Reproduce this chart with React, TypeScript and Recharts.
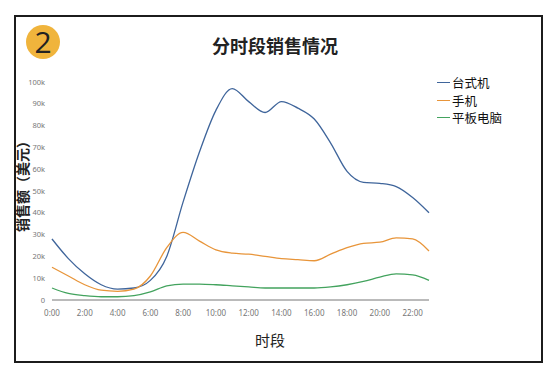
import { LineChart, Line, XAxis, YAxis, Legend } from "recharts";

const hours = [0, 1, 2, 3, 4, 5, 6, 7, 8, 9, 10, 11, 12, 13, 14, 15, 16, 17, 18, 19, 20, 21, 22, 23];
const desktop = [28, 19, 12, 7, 5, 5.5, 9, 20, 45, 68, 87, 97, 91, 86, 91, 88, 83, 72, 59, 54, 53.5, 52, 47, 40];
const phone = [15, 11, 7, 4.5, 4, 5, 11, 24, 31, 27, 23, 21.5, 21, 20, 19, 18.5, 18, 21, 24, 26, 26.5, 28.5, 28, 22.5];
const tablet = [5.5, 3, 2, 1.5, 1.5, 2, 3.7, 6.5, 7.3, 7.3, 7, 6.5, 6, 5.5, 5.5, 5.5, 5.5, 6, 7, 8.5, 10.5, 12, 11.5, 9];

const xTicks = [0, 2, 4, 6, 8, 10, 12, 14, 16, 18, 20, 22];
const yTicks = [0, 10000, 20000, 30000, 40000, 50000, 60000, 70000, 80000, 90000, 100000];

const SERIES = [
  { key: "desktop", name: "台式机", color: "#3f659b" },
  { key: "phone", name: "手机", color: "#e8953a" },
  { key: "tablet", name: "平板电脑", color: "#43a35e" },
];

const data = hours.map((h, i) => ({
  hour: h,
  desktop: desktop[i] * 1000,
  phone: phone[i] * 1000,
  tablet: tablet[i] * 1000,
}));

const FONT = '"Noto Sans CJK SC", "Noto Sans", sans-serif';

function LegendBox() {
  return (
    <div style={{ fontFamily: FONT, fontSize: 12.5, color: "#111" }}>
      {SERIES.map((s) => (
        <div key={s.key} style={{ display: "flex", alignItems: "center", height: 17.5, lineHeight: "17.5px" }}>
          <span style={{ display: "inline-block", width: 13, height: 1, background: s.color, marginRight: 2 }} />
          <span>{s.name}</span>
        </div>
      ))}
    </div>
  );
}

export default function App() {
  return (
    <div style={{ position: "absolute", left: 0, top: 0, width: 557, height: 380, background: "#fff", fontFamily: FONT }}>
      <div
        style={{
          position: "absolute",
          left: 14,
          top: 15,
          width: 525,
          height: 344,
          border: "2px solid #1c1c1c",
        }}
      />
      <div
        style={{
          position: "absolute",
          left: 26,
          top: 25,
          width: 34,
          height: 34,
          borderRadius: "50%",
          background: "#f0b43c",
          color: "#222",
          fontSize: 30,
          lineHeight: "34px",
          textAlign: "center",
          fontFamily: '"Open Sans", sans-serif',
        }}
      >
        2
      </div>
      <div
        style={{
          position: "absolute",
          left: 175,
          width: 200,
          top: 32,
          textAlign: "center",
          fontSize: 18,
          fontWeight: 700,
          color: "#222",
        }}
      >
        分时段销售情况
      </div>
      <div
        style={{
          position: "absolute",
          left: 22,
          top: 183,
          transform: "translate(-50%, -50%) rotate(-90deg)",
          whiteSpace: "nowrap",
          fontSize: 14,
          fontWeight: 700,
          color: "#222",
        }}
      >
        销售额（美元）
      </div>
      <div
        style={{
          position: "absolute",
          left: 240,
          width: 60,
          top: 329,
          textAlign: "center",
          fontSize: 15,
          color: "#222",
        }}
      >
        时段
      </div>
      <div style={{ position: "absolute", left: 0, top: 0 }}>
        <LineChart width={557} height={380} data={data} margin={{ top: 82, right: 28, bottom: 50, left: 0 }}>
          <XAxis
            dataKey="hour"
            type="number"
            domain={[0, 23]}
            ticks={xTicks}
            tickFormatter={(h: number) => `${h}:00`}
            tickLine={false}
            tickMargin={4}
            height={30}
            stroke="#777"
            tick={{ fontSize: 8, fill: "#777", fontFamily: '"Noto Sans", sans-serif' }}
          />
          <YAxis
            type="number"
            domain={[0, 100000]}
            ticks={yTicks}
            tickFormatter={(v: number) => (v === 0 ? "0" : `${v / 1000}k`)}
            axisLine={false}
            tickLine={false}
            tickMargin={1}
            width={52}
            tick={{ fontSize: 7.5, fill: "#777", fontFamily: '"Noto Sans", sans-serif' }}
          />
          <Legend
            layout="vertical"
            verticalAlign="top"
            align="right"
            content={<LegendBox />}
            wrapperStyle={{ left: 437, top: 74, width: 100 }}
          />
          {SERIES.map((s) => (
            <Line
              key={s.key}
              type="monotone"
              dataKey={s.key}
              name={s.name}
              stroke={s.color}
              strokeWidth={1.3}
              dot={false}
              isAnimationActive={false}
            />
          ))}
        </LineChart>
      </div>
    </div>
  );
}
